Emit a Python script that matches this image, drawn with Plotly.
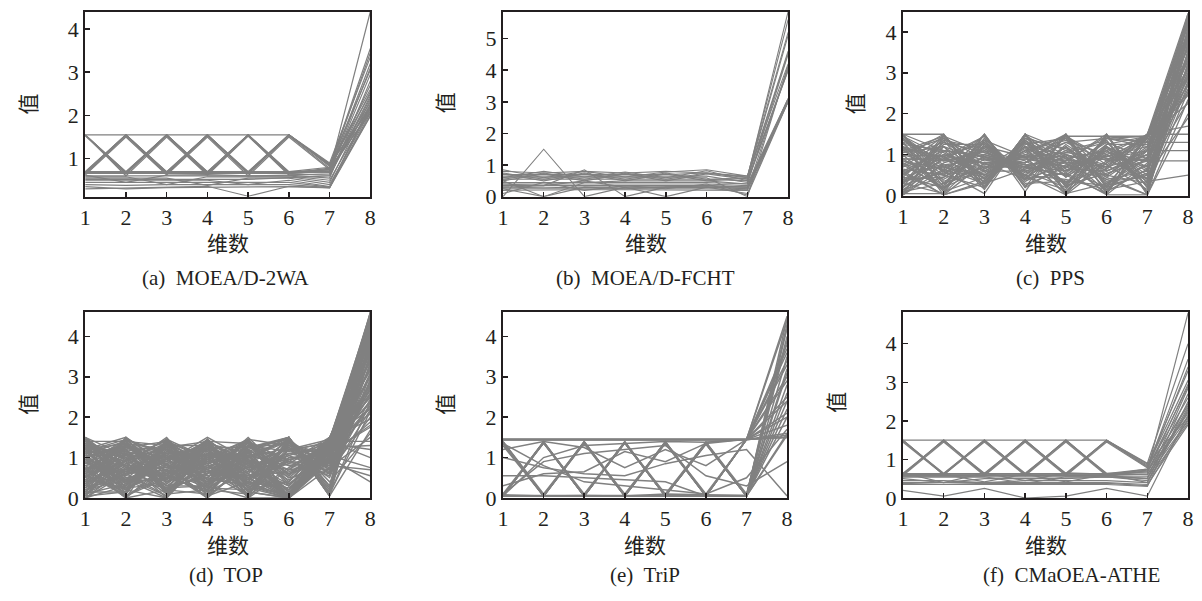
import plotly.graph_objects as go

dims = [1, 2, 3, 4, 5, 6, 7, 8]

lines_a = [
    [1.55,0.68,1.55,0.68,1.55,0.68,0.72,4.40],
    [1.55,0.66,1.55,0.66,1.55,0.66,0.78,3.45],
    [1.55,0.70,1.55,0.70,1.55,0.70,0.68,2.95],
    [1.53,0.64,1.53,0.64,1.53,0.64,0.62,2.45],
    [0.68,1.55,0.68,1.55,0.68,1.55,0.90,3.35],
    [0.66,1.55,0.66,1.55,0.66,1.55,0.86,2.60],
    [0.70,1.55,0.70,1.55,0.70,1.55,0.82,2.30],
    [0.64,1.53,0.64,1.53,0.64,1.53,0.78,2.05],
    [1.55,1.55,1.55,1.55,1.55,1.55,0.85,3.05],
    [0.68,0.68,0.68,0.68,0.68,0.68,0.75,2.70],
    [0.66,0.67,0.66,0.67,0.66,0.66,0.70,2.25],
    [0.62,0.45,0.62,0.63,0.60,0.60,0.50,2.15],
    [0.58,0.58,0.40,0.58,0.58,0.58,0.45,2.35],
    [0.55,0.55,0.55,0.38,0.55,0.55,0.40,2.10],
    [0.50,0.50,0.50,0.50,0.40,0.50,0.35,2.00],
    [0.45,0.45,0.45,0.45,0.45,0.45,0.34,2.20],
    [0.40,0.38,0.40,0.40,0.40,0.40,0.33,2.05],
    [0.30,0.32,0.35,0.36,0.13,0.36,0.33,2.25],
    [0.35,0.30,0.33,0.34,0.34,0.35,0.32,1.98],
    [0.60,0.60,0.60,0.60,0.60,0.62,0.65,2.55],
    [1.55,0.60,1.50,0.62,1.52,0.62,0.55,2.80],
    [0.62,1.50,0.62,1.50,0.60,1.50,0.75,3.20],
    [0.52,0.52,0.52,0.52,0.52,0.56,0.60,2.40],
    [0.70,0.70,0.70,0.70,0.70,0.70,0.80,3.55],
    [1.55,0.67,1.55,0.67,1.55,0.67,0.70,3.10],
    [0.67,1.55,0.67,1.55,0.67,1.55,0.84,2.50],
    [1.54,0.69,1.54,0.69,1.54,0.69,0.74,2.20],
    [0.69,1.54,0.69,1.54,0.69,1.54,0.88,2.15],
    [0.66,0.66,0.66,0.66,0.66,0.66,0.72,2.10],
]

lines_b = [
    [0.00,1.50,0.00,0.30,0.30,0.35,0.30,3.05],
    [0.75,0.55,0.75,0.55,0.75,0.55,0.60,5.85],
    [0.55,0.75,0.55,0.75,0.55,0.75,0.62,5.60],
    [0.72,0.50,0.72,0.50,0.72,0.50,0.58,5.10],
    [0.50,0.72,0.50,0.72,0.50,0.72,0.55,4.55],
    [0.85,0.60,0.80,0.62,0.78,0.85,0.65,4.20],
    [0.60,0.80,0.62,0.78,0.60,0.82,0.50,4.05],
    [0.65,0.65,0.65,0.65,0.65,0.65,0.45,4.00],
    [0.45,0.45,0.45,0.45,0.45,0.45,0.40,3.10],
    [0.40,0.40,0.38,0.40,0.40,0.40,0.35,3.00],
    [0.35,0.35,0.35,0.35,0.35,0.35,0.30,3.05],
    [0.30,0.28,0.30,0.30,0.30,0.30,0.25,3.10],
    [0.25,0.25,0.25,0.25,0.25,0.25,0.22,4.10],
    [0.20,0.22,0.22,0.22,0.22,0.22,0.20,3.00],
    [0.50,0.00,0.45,0.50,0.50,0.50,0.40,4.50],
    [0.40,0.35,0.85,0.00,0.30,0.30,0.25,3.05],
    [0.30,0.35,0.50,0.30,0.00,0.30,0.30,3.10],
    [0.60,0.60,0.60,0.60,0.60,0.60,0.00,4.15],
    [0.70,0.70,0.70,0.72,0.70,0.75,0.65,5.20],
    [0.80,0.75,0.80,0.75,0.80,0.75,0.60,4.60],
    [0.55,0.55,0.55,0.55,0.55,0.55,0.50,4.00],
    [0.10,0.45,0.20,0.35,0.25,0.40,0.05,3.00],
    [0.25,0.00,0.30,0.25,0.30,0.30,0.10,3.05],
]

lines_c = [
    [1.50,0.20,1.50,0.20,1.50,0.20,1.50,4.45],
    [0.20,1.50,0.20,1.50,0.20,1.50,0.20,4.30],
    [1.40,0.30,1.30,0.40,1.45,0.25,1.40,4.20],
    [0.30,1.40,0.40,1.30,0.25,1.45,0.30,4.10],
    [1.20,0.50,1.20,0.50,1.20,0.50,1.20,4.00],
    [0.50,1.20,0.50,1.20,0.50,1.20,0.50,3.90],
    [1.00,0.70,1.00,0.70,1.00,0.70,1.00,3.80],
    [0.70,1.00,0.70,1.00,0.70,1.00,0.70,3.70],
    [0.05,0.05,1.50,0.10,1.50,0.05,1.50,3.60],
    [1.50,1.50,0.20,1.50,0.05,1.50,0.05,3.50],
    [0.90,0.90,0.80,0.90,0.80,0.90,0.85,3.40],
    [0.60,1.10,0.95,0.70,1.10,0.60,1.10,3.30],
    [1.10,0.60,0.75,0.95,0.60,1.10,0.60,3.20],
    [0.02,0.80,1.10,0.50,0.02,0.80,1.45,3.10],
    [1.30,0.02,0.30,1.40,0.90,0.02,0.02,2.00],
    [0.40,0.95,1.45,0.25,0.70,1.30,0.90,3.00],
    [1.45,0.95,0.25,1.45,1.00,0.40,0.60,2.90],
    [0.10,0.30,0.60,1.10,1.45,0.90,0.40,2.80],
    [0.80,0.40,0.95,0.75,0.30,1.40,1.20,2.70],
    [0.95,1.30,0.75,0.95,0.05,0.30,0.75,2.60],
    [0.25,0.60,1.30,0.40,1.25,0.60,1.00,4.40],
    [1.25,1.10,0.40,1.30,0.45,1.10,0.25,4.35],
    [0.55,0.02,0.35,1.35,0.55,0.02,0.80,4.25],
    [0.75,1.45,1.05,0.65,0.85,1.45,1.30,4.15],
    [0.15,0.75,0.50,1.20,1.00,0.75,0.15,4.05],
    [1.35,0.85,1.10,0.60,0.20,0.85,1.50,3.95],
    [0.45,0.20,0.90,0.80,1.50,0.20,0.55,3.85],
    [1.05,1.20,0.15,1.50,0.10,1.20,0.10,3.75],
    [0.65,0.50,1.50,0.20,0.75,0.50,1.15,3.65],
    [0.35,1.00,0.60,1.10,1.35,1.00,0.35,3.55],
    [1.15,0.15,1.20,0.50,0.40,0.15,0.95,3.45],
    [0.85,0.65,0.30,1.40,1.15,0.65,1.40,3.35],
    [0.02,1.10,0.95,0.75,0.60,1.35,0.05,3.25],
    [1.50,0.35,0.70,1.00,0.95,0.35,0.45,3.15],
    [0.50,1.25,1.25,0.45,0.15,1.25,1.25,3.05],
    [1.00,0.10,0.45,1.25,1.40,0.10,0.65,2.95],
    [0.20,0.90,1.35,0.35,0.85,0.90,1.10,2.85],
    [1.40,0.55,0.55,1.15,0.25,0.55,0.85,2.75],
    [0.70,1.35,0.20,1.50,1.10,1.35,0.20,2.55],
    [0.30,0.05,1.00,0.70,0.50,0.05,1.35,2.45],
    [1.20,0.85,0.80,0.90,0.70,0.40,0.02,2.35],
    [0.05,1.45,0.65,1.05,1.45,1.45,1.45,2.25],
    [0.90,0.25,1.40,0.30,0.35,0.25,0.50,1.90],
    [0.60,0.70,0.35,1.35,0.80,0.70,1.50,1.50],
    [1.05,1.40,0.90,0.80,1.30,1.40,1.30,1.30],
    [0.40,0.45,1.15,0.55,0.95,0.45,1.10,1.10],
    [1.30,1.05,0.50,1.20,0.60,1.05,0.85,0.85],
    [0.80,0.15,1.25,0.40,1.20,0.15,0.35,0.50],
    [0.10,1.20,0.85,0.95,0.02,1.20,0.70,3.90],
    [1.45,0.60,0.05,1.50,0.65,0.60,1.00,4.45],
    [0.90,0.85,1.45,0.40,0.75,0.95,1.40,4.40],
    [0.30,0.90,0.35,1.20,0.10,0.80,1.45,4.30],
    [1.45,0.75,0.90,0.80,1.45,0.75,1.45,4.20],
    [0.60,0.02,0.80,0.95,0.85,1.50,0.02,4.10],
    [1.10,1.45,0.60,0.60,0.95,0.10,1.45,4.00],
    [0.02,0.65,1.20,0.95,1.05,0.95,1.20,3.90],
    [1.30,0.30,0.70,0.70,0.50,1.25,1.45,3.80],
    [0.45,1.30,1.05,0.80,1.40,0.30,0.90,3.70],
    [1.00,0.95,0.50,1.10,0.30,1.00,1.50,3.60],
    [0.15,0.45,0.95,0.50,1.20,0.45,0.02,3.50],
    [1.50,1.10,1.00,0.75,0.90,1.10,1.45,3.40],
    [0.75,0.20,0.65,1.30,0.65,0.20,1.10,3.30],
    [0.95,1.50,0.30,0.65,1.05,1.30,0.40,3.20],
    [0.35,0.55,1.10,0.85,0.35,0.65,1.45,3.10],
    [1.20,0.10,1.35,0.95,1.30,0.85,0.90,3.00],
    [0.55,1.00,0.80,0.40,0.55,1.40,1.45,2.90],
    [1.40,0.70,0.45,1.00,1.50,0.50,0.30,2.70],
    [0.05,1.35,1.15,0.60,0.80,0.05,1.45,2.50],
    [0.85,0.50,0.20,1.35,0.45,1.15,0.65,2.30],
    [1.15,0.95,1.30,0.45,1.00,0.70,1.50,1.70],
]

lines_d = [
    [1.50,0.10,1.40,0.30,1.20,0.00,1.10,4.60],
    [0.10,1.50,0.20,1.45,0.05,1.50,0.05,4.50],
    [1.30,0.80,0.40,1.10,0.70,0.30,1.20,4.40],
    [0.50,1.20,1.00,0.20,1.40,0.90,0.80,4.30],
    [0.90,0.30,1.30,0.70,0.10,1.20,1.45,4.20],
    [0.20,0.60,0.90,1.40,0.50,0.00,1.00,4.10],
    [1.10,1.40,0.10,0.90,1.00,1.40,0.10,4.00],
    [0.70,0.05,0.70,0.50,1.30,0.60,1.30,3.90],
    [1.40,1.00,1.20,0.05,0.80,1.10,0.90,3.80],
    [0.30,0.40,0.50,1.20,0.20,0.40,1.50,3.70],
    [1.00,1.30,0.80,0.60,1.45,0.00,1.15,3.60],
    [0.60,0.90,1.45,1.00,0.35,1.30,0.60,3.50],
    [0.05,1.10,0.30,0.30,1.10,0.70,1.40,3.40],
    [1.20,0.20,1.00,1.30,0.60,1.45,0.70,3.30],
    [0.80,0.70,0.60,0.80,0.90,0.20,1.25,3.20],
    [1.45,0.50,0.05,1.45,0.25,1.00,0.95,3.10],
    [0.40,1.45,1.10,0.40,1.20,0.50,1.35,3.00],
    [1.05,0.35,0.85,1.10,0.00,1.20,0.50,2.90],
    [0.15,0.95,1.35,0.15,0.95,0.00,1.05,2.80],
    [0.95,1.20,0.20,0.75,1.35,0.85,1.45,2.70],
    [0.55,0.15,1.15,0.95,0.45,1.35,0.85,2.60],
    [1.35,0.65,0.55,0.35,1.05,0.15,1.30,2.50],
    [0.25,1.05,0.95,1.35,0.15,0.95,1.20,2.40],
    [1.15,0.45,1.40,0.55,0.75,0.00,0.90,2.30],
    [0.65,1.35,0.35,1.05,1.40,0.55,1.50,2.20],
    [0.00,0.75,0.75,0.65,0.55,1.05,0.65,2.00],
    [1.25,1.15,0.15,1.25,0.85,0.35,1.10,1.80],
    [0.45,0.25,1.25,0.25,1.25,1.45,0.40,1.60],
    [0.85,1.45,0.65,0.85,0.05,0.75,1.40,1.40],
    [1.50,0.55,1.05,0.45,1.15,0.00,1.35,1.20],
    [0.35,0.85,0.45,1.15,0.65,1.25,0.80,0.70],
    [0.75,0.00,0.85,0.00,0.95,0.45,1.00,0.40],
    [1.10,1.25,1.20,0.70,0.30,1.10,1.25,4.55],
    [0.20,0.45,0.25,1.30,1.00,0.00,1.45,4.45],
    [1.40,0.95,0.70,0.10,1.30,0.80,0.60,4.35],
    [0.50,1.40,1.30,0.80,0.40,1.40,0.20,4.25],
    [0.90,0.20,0.00,1.40,0.80,0.30,1.30,4.15],
    [1.30,1.10,0.90,0.40,1.45,0.00,0.95,4.05],
    [0.10,0.60,1.40,1.00,0.10,1.00,1.10,3.95],
    [0.70,1.30,0.50,0.20,1.00,1.50,0.05,3.85],
    [1.00,0.40,1.10,1.20,0.60,0.10,1.40,3.75],
    [0.30,1.00,0.20,0.60,1.20,0.60,0.90,3.65],
    [1.45,0.70,1.35,0.90,0.20,1.20,0.75,3.55],
    [0.60,0.05,0.60,1.45,0.70,0.00,1.20,3.45],
    [1.20,1.50,0.80,0.00,1.40,0.90,0.55,3.35],
    [0.00,0.30,1.00,0.70,0.50,1.30,1.05,3.25],
    [0.80,1.20,0.40,1.10,0.90,0.20,1.50,3.15],
    [1.35,0.80,1.50,0.30,0.00,0.70,0.85,3.05],
    [0.40,0.50,0.70,1.35,1.10,1.40,0.30,2.95],
    [1.05,1.05,0.30,0.50,0.30,0.00,1.20,2.85],
    [0.15,1.35,1.20,0.85,1.35,0.50,0.70,2.75],
    [1.25,0.25,0.65,1.25,0.75,1.05,1.35,2.65],
    [0.55,0.90,1.45,0.05,0.40,0.25,1.00,2.55],
    [0.95,0.60,0.05,0.95,1.25,1.35,0.60,2.45],
    [0.25,1.15,0.90,1.40,0.15,0.00,1.30,2.35],
    [1.15,0.35,1.10,0.60,1.05,0.80,0.90,2.25],
    [0.65,1.45,0.55,0.15,0.65,1.45,0.10,2.15],
    [1.50,0.75,0.20,1.00,1.45,0.40,1.45,1.95],
    [0.05,0.15,1.30,0.75,0.85,0.95,1.15,1.75],
    [0.85,1.25,0.75,1.30,0.25,0.00,0.75,1.50],
    [1.30,0.45,0.95,0.35,1.30,1.15,1.40,1.00],
    [0.45,1.10,0.15,1.05,0.55,0.65,1.05,0.75],
    [0.75,0.65,1.25,0.45,1.00,1.50,0.05,4.60],
    [1.40,1.40,0.45,1.20,0.35,0.05,1.25,4.50],
    [0.35,0.95,1.05,0.25,0.85,0.00,1.35,4.58],
    [1.25,0.05,0.50,1.35,0.45,1.50,0.10,4.48],
    [0.05,1.30,0.60,0.90,1.15,0.05,1.45,4.38],
    [0.90,0.55,1.30,0.15,1.00,1.45,0.25,4.28],
    [1.45,0.25,0.35,1.10,0.60,0.00,1.30,4.18],
    [0.60,1.15,0.95,0.50,1.45,1.30,0.90,4.08],
    [0.20,0.80,0.10,1.35,0.30,0.05,1.40,3.98],
    [1.15,1.45,1.05,0.65,0.05,1.40,0.15,3.88],
    [0.80,0.10,1.35,0.85,1.10,0.00,1.25,3.78],
    [0.45,0.70,0.55,1.45,0.70,0.90,1.50,3.68],
    [1.35,1.00,0.25,0.30,1.25,1.50,0.05,3.58],
    [0.10,0.35,1.15,1.15,0.40,0.00,1.15,3.48],
    [1.00,1.35,0.65,0.00,0.90,1.20,1.35,3.38],
    [0.55,0.20,1.45,0.70,1.40,0.35,0.95,3.28],
    [1.20,0.90,0.00,1.25,0.15,0.00,1.30,3.18],
    [0.30,1.50,0.80,0.55,0.65,1.45,0.20,3.08],
    [0.95,0.40,0.45,1.40,1.35,0.10,1.45,2.98],
    [1.50,1.05,1.40,0.95,0.50,0.85,0.70,2.88],
    [0.00,0.60,0.70,0.30,1.05,0.00,1.20,2.78],
    [0.70,1.25,1.10,1.05,0.20,1.35,1.05,2.68],
    [1.10,0.00,0.20,0.60,1.50,0.55,1.40,2.58],
    [0.40,0.85,1.30,1.30,0.80,0.00,1.50,2.48],
    [1.30,0.50,0.60,0.05,1.20,1.50,0.10,2.38],
    [0.85,1.40,0.40,0.80,0.40,0.20,1.10,2.28],
    [0.15,0.15,1.00,1.20,1.00,1.25,0.60,2.18],
    [1.45,0.80,0.85,0.40,0.60,0.00,1.35,2.08],
    [0.65,0.30,1.20,1.00,1.30,0.60,1.00,1.88],
    [1.05,1.20,0.10,0.20,0.10,1.45,0.05,1.68],
    [0.25,0.65,0.90,1.50,0.95,0.00,1.25,1.30],
    [1.40,0.40,1.15,0.65,0.45,0.90,0.85,0.55],
    [0.50,1.10,0.30,0.95,1.40,0.30,1.45,4.52],
    [0.75,0.00,1.45,0.35,0.75,1.10,1.20,4.42],
    [1.20,1.35,0.75,1.45,0.00,0.00,1.40,4.32],
    [0.05,0.95,0.20,0.10,1.15,1.50,0.30,4.22],
    [0.95,0.20,1.05,0.75,0.50,0.00,1.30,4.12],
    [1.35,0.75,0.50,1.25,1.25,0.95,1.10,4.02],
    [0.35,1.25,1.40,0.45,0.35,0.40,1.45,3.92],
    [1.00,0.45,0.00,1.05,1.05,0.00,1.20,3.82],
    [0.60,1.45,0.65,0.25,0.20,1.25,0.70,3.72],
    [1.25,0.60,1.25,1.40,0.90,0.70,1.35,3.62],
]

lines_e = [
    [1.45,1.45,1.45,1.45,1.45,1.45,1.45,1.50],
    [1.45,1.45,1.45,1.45,1.45,1.45,1.45,1.60],
    [1.44,1.44,1.44,1.44,1.44,1.44,1.44,1.55],
    [1.35,0.05,1.38,0.05,1.38,0.05,1.45,2.50],
    [1.30,0.05,1.35,0.05,1.35,0.05,1.45,3.00],
    [1.38,0.06,1.40,0.06,1.40,0.06,1.45,4.50],
    [0.05,1.38,0.05,1.38,0.05,1.35,0.05,2.20],
    [0.05,1.40,0.05,1.40,0.05,1.38,0.05,3.50],
    [0.06,1.36,0.06,1.36,0.06,1.33,0.05,4.20],
    [0.05,1.38,0.05,1.38,0.05,1.35,0.05,2.80],
    [0.05,0.05,0.05,0.05,0.05,0.05,0.05,3.90],
    [0.08,0.05,0.06,0.05,0.10,0.08,0.06,2.60],
    [0.55,0.55,0.50,0.45,0.40,0.05,0.05,2.40],
    [1.00,0.75,0.60,0.55,0.85,1.05,1.20,0.05],
    [1.35,0.80,0.40,0.30,0.20,0.10,0.50,1.70],
    [0.10,0.90,1.10,1.20,1.30,0.55,0.30,0.90],
    [1.20,1.40,1.25,0.75,1.20,0.80,1.45,2.00],
    [0.30,0.60,0.65,1.15,0.90,1.35,1.45,4.40],
    [1.38,0.05,1.38,0.05,1.38,0.05,0.05,3.20],
    [0.05,1.38,0.05,1.38,0.05,1.38,1.45,3.70],
    [1.45,1.45,1.45,1.45,1.45,1.45,1.45,2.90],
    [1.45,1.45,1.45,1.45,1.45,1.45,1.45,1.80],
    [1.40,0.10,1.38,0.10,1.38,0.10,1.45,1.50],
    [0.10,1.38,0.10,1.38,0.10,1.38,0.10,4.00],
    [0.05,1.00,1.30,1.35,1.40,1.38,1.45,3.30],
    [1.37,0.06,1.37,0.06,1.37,0.06,1.45,2.10],
    [1.36,0.05,1.36,0.05,1.36,0.05,1.45,3.80],
    [0.06,1.37,0.06,1.37,0.06,1.36,0.05,1.60],
    [0.05,1.36,0.05,1.36,0.05,1.34,0.05,3.10],
    [0.05,1.37,0.05,1.37,0.05,1.36,0.05,4.45],
    [1.39,0.05,1.39,0.05,1.39,0.05,1.45,3.60],
    [1.45,1.45,1.45,1.45,1.45,1.45,1.45,2.40],
    [1.45,1.45,1.45,1.45,1.45,1.45,1.45,3.40],
    [0.05,0.05,0.05,0.05,0.05,0.05,0.05,2.00],
    [0.06,0.06,0.06,0.06,0.06,0.06,0.06,4.30],
    [0.05,0.05,0.06,0.05,0.05,0.06,0.05,1.55],
]

lines_f = [
    [1.50,0.62,1.50,0.62,1.50,0.62,0.70,4.80],
    [1.50,0.60,1.50,0.60,1.50,0.60,0.75,3.40],
    [1.48,0.64,1.48,0.64,1.48,0.64,0.65,2.95],
    [0.62,1.50,0.62,1.50,0.62,1.50,0.90,4.00],
    [0.60,1.50,0.60,1.50,0.60,1.50,0.85,3.30],
    [0.64,1.48,0.64,1.48,0.64,1.48,0.80,2.60],
    [1.50,1.50,1.50,1.50,1.50,1.50,0.82,3.05],
    [0.62,0.62,0.62,0.62,0.62,0.62,0.72,2.40],
    [0.60,0.60,0.60,0.60,0.60,0.60,0.68,2.20],
    [0.58,0.58,0.58,0.58,0.58,0.58,0.62,2.10],
    [0.55,0.55,0.55,0.55,0.55,0.55,0.55,2.00],
    [0.50,0.40,0.50,0.50,0.50,0.55,0.45,1.95],
    [0.45,0.45,0.40,0.45,0.45,0.45,0.40,2.30],
    [0.40,0.40,0.40,0.40,0.40,0.40,0.35,1.90],
    [0.38,0.35,0.38,0.38,0.38,0.38,0.32,2.05],
    [0.35,0.35,0.35,0.35,0.35,0.35,0.30,2.50],
    [0.20,0.05,0.25,0.00,0.05,0.25,0.05,2.15],
    [0.65,0.40,0.65,0.45,0.65,0.62,0.40,2.70],
    [1.45,0.60,1.45,0.58,1.45,0.58,0.50,2.85],
    [0.58,1.45,0.58,1.45,0.58,1.45,0.78,3.60],
    [0.62,0.62,0.42,0.62,0.42,0.62,0.60,2.25],
    [0.55,0.55,0.55,0.38,0.55,0.55,0.50,2.35],
    [1.50,0.61,1.50,0.61,1.50,0.61,0.68,2.45],
    [0.61,1.50,0.61,1.50,0.61,1.50,0.88,2.10],
    [0.63,0.63,0.63,0.63,0.63,0.63,0.75,2.90],
]

captions = ["(a)  MOEA/D-2WA", "(b)  MOEA/D-FCHT", "(c)  PPS",
            "(d)  TOP", "(e)  TriP", "(f)  CMaOEA-ATHE"]
y_ranges = [[0.12, 4.4], [0, 5.85], [0, 4.49], [0, 4.6], [0, 4.6], [0, 4.82]]
y_ticks = [[1, 2, 3, 4], [0, 1, 2, 3, 4, 5], [0, 1, 2, 3, 4],
           [0, 1, 2, 3, 4], [0, 1, 2, 3, 4], [0, 1, 2, 3, 4]]
x_label = "维数"
y_label = "值"

W, H = 1202, 601
# plot boxes in pixels: left, right, top, bottom
boxes = [
    (80, 368, 12, 201), (502, 790, 12, 201), (906, 1194, 12, 200),
    (80, 368, 319, 509), (502, 789, 319, 509), (906, 1194, 319, 509),
]
caption_x = [222, 646, 1055, 222, 645, 1076]
caption_y = [284, 284, 284, 588, 588, 588]
xlab_y = [247, 247, 247, 556, 556, 556]
ylab_x = [21, 442, 856, 21, 442, 837]
ylab_y = [106, 105, 106, 413, 413, 411]

all_lines = [lines_a, lines_b, lines_c, lines_d, lines_e, lines_f]
widths = [1.2, 1.1, 1.3, 1.4, 1.5, 1.2]
LINE = "rgb(128,128,128)"
INK = "#231f20"
SERIF = "Liberation Serif"
CJK = "Noto Sans CJK SC"

fig = go.Figure()
annotations = []
for i, (lines, box) in enumerate(zip(all_lines, boxes)):
    xs, ys = [], []
    for row in lines:
        xs += dims + [None]
        ys += row + [None]
    sfx = "" if i == 0 else str(i + 1)
    fig.add_trace(go.Scatter(x=xs, y=ys, mode="lines",
                             line=dict(color=LINE, width=widths[i]),
                             xaxis="x" + sfx, yaxis="y" + sfx,
                             showlegend=False, hoverinfo="skip"))
    l, r, t, b = box
    common = dict(showline=True, mirror=True, linecolor=INK, linewidth=2,
                  ticks="inside", ticklen=5, tickwidth=1.5, tickcolor=INK,
                  showgrid=False, zeroline=False,
                  tickfont=dict(family=SERIF, size=22, color=INK), fixedrange=True)
    ax = dict(domain=[l / W, r / W], range=[1, 8], tickvals=dims,
              anchor="y" + sfx, **common)
    ay = dict(domain=[1 - b / H, 1 - t / H], range=y_ranges[i], tickvals=y_ticks[i],
              anchor="x" + sfx, **common)
    fig.update_layout(**{"xaxis" + sfx: ax, "yaxis" + sfx: ay})
    annotations.append(dict(text=x_label, x=(l + r) / 2 / W, y=1 - xlab_y[i] / H,
                            xref="paper", yref="paper", showarrow=False,
                            xanchor="center", yanchor="middle",
                            font=dict(family=CJK, size=21, color=INK)))
    annotations.append(dict(text=y_label, x=ylab_x[i] / W, y=1 - ylab_y[i] / H,
                            xref="paper", yref="paper", showarrow=False, textangle=-90,
                            xanchor="center", yanchor="middle",
                            font=dict(family=CJK, size=21, color=INK)))
    annotations.append(dict(text=captions[i], x=caption_x[i] / W, y=1 - caption_y[i] / H,
                            xref="paper", yref="paper", showarrow=False,
                            xanchor="center", yanchor="middle",
                            font=dict(family=SERIF, size=21, color=INK)))

fig.update_layout(width=W, height=H, margin=dict(l=0, r=0, t=0, b=0),
                  paper_bgcolor="white", plot_bgcolor="white",
                  annotations=annotations)
fig.write_html("out.html", config={"displayModeBar": False, "staticPlot": True},
               post_script="document.body.style.margin='0';document.body.style.overflow='hidden';")
